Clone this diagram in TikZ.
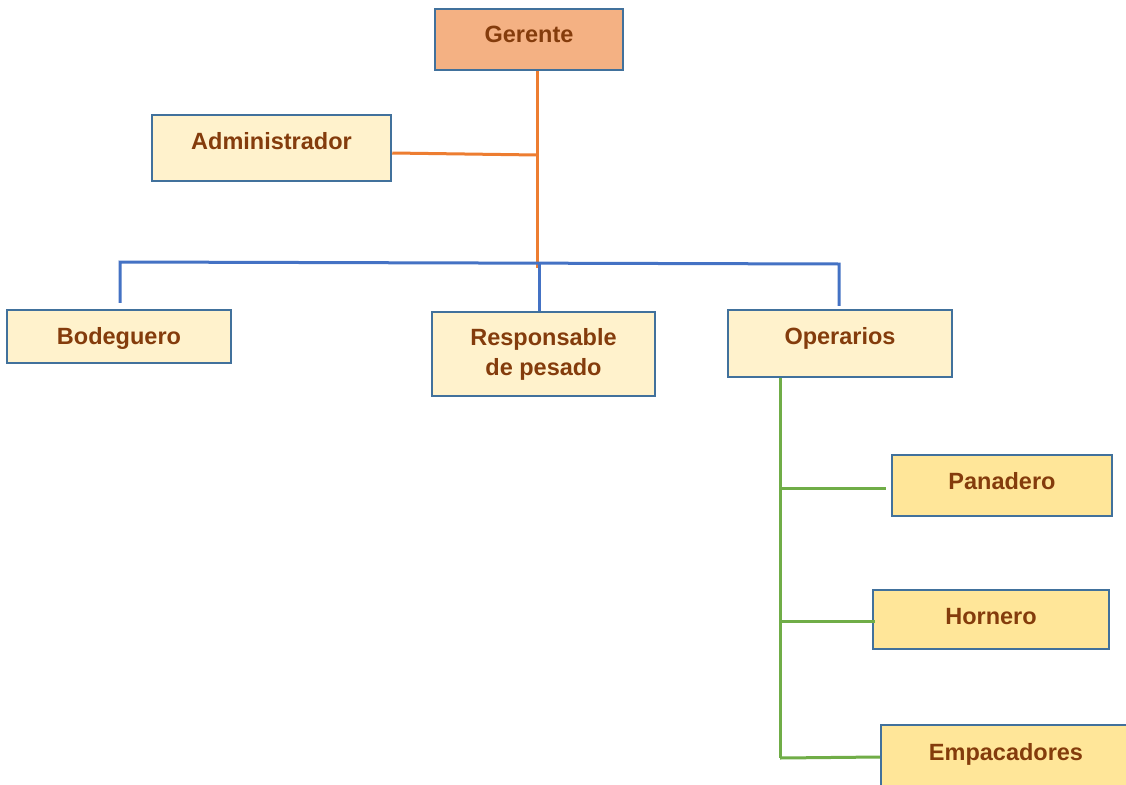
\documentclass[tikz,border=0pt]{standalone}
\usepackage{fontspec}
\setmainfont{Liberation Sans}
\definecolor{bordc}{HTML}{41719C}
\definecolor{txtc}{HTML}{843C0C}
\definecolor{fillA}{HTML}{F4B183}
\definecolor{fillB}{HTML}{FFF2CC}
\definecolor{fillC}{HTML}{FFE699}
\definecolor{orln}{HTML}{ED7D31}
\definecolor{blln}{HTML}{4472C4}
\definecolor{grln}{HTML}{70AD47}
\begin{document}
\begin{tikzpicture}[x=1pt,y=-1pt,
  box/.style={draw=bordc,line width=2.5pt,rectangle,inner sep=0pt,
    font=\fontsize{23.5}{30}\selectfont\bfseries,text=txtc,align=center,text height=17pt},
  lvlA/.style={box,fill=fillA},
  lvlB/.style={box,fill=fillB},
  lvlC/.style={box,fill=fillC},
  orline/.style={draw=orln,line width=3pt},
  blline/.style={draw=blln,line width=3pt},
  grline/.style={draw=grln,line width=3pt}]
\useasboundingbox (0,0) rectangle (1126,784);
\fill[white] (0,0) rectangle (1126,784);

\node[lvlA,minimum width=188pt,minimum height=61pt,text depth=11pt] (gerente) at (529,39.5) {Gerente};
\node[lvlB,minimum width=239pt,minimum height=66pt,text depth=14pt] (admin) at (271.5,148) {Administrador};
\node[lvlB,minimum width=224pt,minimum height=53pt,text depth=1pt] (bodeg) at (119,336.5) {Bodeguero};
\node[box,fill=fillB,text height=,minimum width=223pt,minimum height=84pt] (resp) at (543.5,354) {Responsable\\de pesado};
\node[lvlB,minimum width=224pt,minimum height=67pt,text depth=15pt] (oper) at (840,343.5) {Operarios};
\node[lvlC,minimum width=220pt,minimum height=61pt,text depth=9pt] (pana) at (1002,485.5) {Panadero};
\node[lvlC,minimum width=236pt,minimum height=59pt,text depth=7pt] (horn) at (991,619.5) {Hornero};
\node[lvlC,minimum width=250pt,minimum height=62pt,text depth=8pt] (empa) at (1006,756) {Empacadores};

% orange
\coordinate (trunk) at (537,268);
\coordinate (admj) at (537,155);
\draw[orline] ([xshift=8pt]gerente.south) -- (trunk);
\draw[orline] ([yshift=-5pt]admin.east) -- (admj);

% blue
\coordinate (bL) at (120,262);
\coordinate (bM) at (539,263);
\coordinate (bR) at (839,264);
\draw[blline] ([xshift=1pt,yshift=6pt]bodeg.north) -- (bL) -- (bR) -- ([xshift=-1pt,yshift=3pt]oper.north);
\draw[blline] ([xshift=-4.5pt]resp.north) -- (bM);

% green
\coordinate (g1) at (780,488);
\coordinate (g2) at (780,621);
\coordinate (g3) at (780,758);
\draw[grline] ([xshift=-60pt]oper.south) -- (g3);
\draw[grline] (g1) -- ([xshift=-5pt,yshift=-2.5pt]pana.west);
\draw[grline] (g2) -- ([xshift=3pt,yshift=-1.5pt]horn.west);
\draw[grline] (g3) -- ([yshift=-1pt]empa.west);
\end{tikzpicture}
\end{document}
